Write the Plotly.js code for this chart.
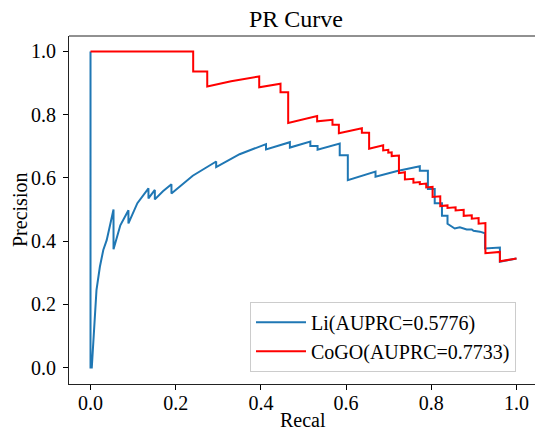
<!DOCTYPE html>
<html>
<head>
<meta charset="utf-8">
<script src="https://cdn.plot.ly/plotly-3.0.1.min.js"></script>
<style>html,body{margin:0;padding:0;background:#fff;}#chart{width:535px;height:431px;}</style>
</head>
<body>
<div id="chart"></div>
<script>
var liName = "Li(AUPRC=0.5776)";
var cogoName = "CoGO(AUPRC=0.7733)";

var liRecall = [0, 0, 0.003, 0.008, 0.014, 0.022, 0.030, 0.038, 0.054, 0.054, 0.07, 0.089, 0.089, 0.11, 0.136, 0.136, 0.151, 0.151, 0.17, 0.19, 0.19, 0.24, 0.295, 0.295, 0.35, 0.412, 0.412, 0.468, 0.468, 0.516, 0.516, 0.533, 0.533, 0.585, 0.585, 0.604, 0.604, 0.669, 0.669, 0.72, 0.773, 0.773, 0.792, 0.792, 0.808, 0.808, 0.825, 0.825, 0.838, 0.838, 0.855, 0.867, 0.883, 0.895, 0.899, 0.914, 0.926, 0.926, 0.961, 0.961, 1.0];
var liPrecision = [1.0, 0.0, 0.0, 0.108, 0.245, 0.319, 0.372, 0.403, 0.500, 0.374, 0.45, 0.498, 0.456, 0.52, 0.567, 0.535, 0.562, 0.532, 0.558, 0.58, 0.551, 0.607, 0.652, 0.634, 0.675, 0.707, 0.690, 0.713, 0.696, 0.715, 0.701, 0.701, 0.689, 0.709, 0.672, 0.672, 0.593, 0.620, 0.604, 0.622, 0.637, 0.623, 0.623, 0.565, 0.565, 0.52, 0.52, 0.48, 0.48, 0.455, 0.440, 0.444, 0.437, 0.437, 0.433, 0.430, 0.425, 0.377, 0.380, 0.335, 0.345];

var cogoRecall = [0, 0.241, 0.241, 0.274, 0.274, 0.33, 0.396, 0.396, 0.446, 0.446, 0.464, 0.464, 0.532, 0.532, 0.568, 0.568, 0.583, 0.583, 0.637, 0.637, 0.654, 0.654, 0.687, 0.687, 0.699, 0.699, 0.707, 0.707, 0.724, 0.724, 0.738, 0.738, 0.758, 0.758, 0.773, 0.773, 0.788, 0.788, 0.803, 0.803, 0.821, 0.821, 0.838, 0.838, 0.857, 0.857, 0.876, 0.876, 0.895, 0.895, 0.911, 0.911, 0.927, 0.927, 0.961, 0.961, 1.0];
var cogoPrecision = [1.0, 1.0, 0.937, 0.937, 0.889, 0.906, 0.921, 0.887, 0.898, 0.871, 0.871, 0.774, 0.796, 0.779, 0.784, 0.768, 0.768, 0.741, 0.757, 0.743, 0.743, 0.692, 0.703, 0.687, 0.689, 0.680, 0.681, 0.669, 0.671, 0.615, 0.618, 0.595, 0.597, 0.585, 0.587, 0.580, 0.582, 0.570, 0.572, 0.540, 0.542, 0.511, 0.513, 0.505, 0.507, 0.497, 0.499, 0.480, 0.482, 0.471, 0.473, 0.455, 0.457, 0.362, 0.366, 0.336, 0.345];

var tickVals = [0, 0.2, 0.4, 0.6, 0.8, 1.0];
var tickText = ["0.0", "0.2", "0.4", "0.6", "0.8", "1.0"];

var FONT = "Liberation Serif";

var traces = [
  {x: liRecall, y: liPrecision, type: "scatter", mode: "lines", name: liName,
   line: {color: "#1f77b4", width: 2}},
  {x: cogoRecall, y: cogoPrecision, type: "scatter", mode: "lines", name: cogoName,
   line: {color: "#ff0000", width: 2}}
];

var layout = {
  width: 535, height: 431, autosize: false,
  margin: {l: 69, r: 0, t: 36, b: 47, pad: 0},
  paper_bgcolor: "#fff", plot_bgcolor: "#fff",
  font: {family: FONT, size: 20, color: "#000"},
  title: {text: "PR Curve", font: {family: FONT, size: 24, color: "#000"},
          xref: "container", x: 296/535, xanchor: "center",
          yref: "container", y: 1 - 10/431, yanchor: "top"},
  xaxis: {range: [-0.0505, 1.0434], tickvals: tickVals, ticktext: tickText,
          ticks: "outside", ticklen: 5, tickwidth: 1, tickcolor: "#000",
          ticklabelstandoff: -4,
          showline: true, linecolor: "#222", linewidth: 1, mirror: false,
          showgrid: false, zeroline: false, tickfont: {family: FONT, size: 20, color: "#000"}},
  yaxis: {range: [-0.052, 1.049], tickvals: tickVals, ticktext: tickText,
          ticks: "outside", ticklen: 5, tickwidth: 1, tickcolor: "#000",
          ticklabelstandoff: 3,
          showline: true, linecolor: "#222", linewidth: 1, mirror: false,
          showgrid: false, zeroline: false, tickfont: {family: FONT, size: 20, color: "#000"}},
  shapes: [{type: "line", xref: "paper", yref: "paper", x0: 0, x1: 1, y0: 1, y1: 1,
            line: {color: "#222", width: 1}}],
  annotations: [
    {text: "Recal", xref: "paper", yref: "paper", x: (303-69)/466, y: (384-420)/348,
     xanchor: "center", yanchor: "middle", showarrow: false,
     font: {family: FONT, size: 20, color: "#000"}},
    {text: "Precision", xref: "paper", yref: "paper", x: (20-69)/466, y: 0.5,
     xanchor: "center", yanchor: "middle", showarrow: false, textangle: -90,
     font: {family: FONT, size: 20, color: "#000"}}
  ],
  showlegend: true,
  legend: {x: (516-69)/466, y: (384-371.7)/348, xanchor: "right", yanchor: "bottom",
           bgcolor: "#fff", bordercolor: "#cccccc", borderwidth: 1, itemwidth: 50,
           font: {family: FONT, size: 20, color: "#000"}}
};

Plotly.newPlot("chart", traces, layout, {displayModeBar: false, staticPlot: true});
</script>
</body>
</html>
